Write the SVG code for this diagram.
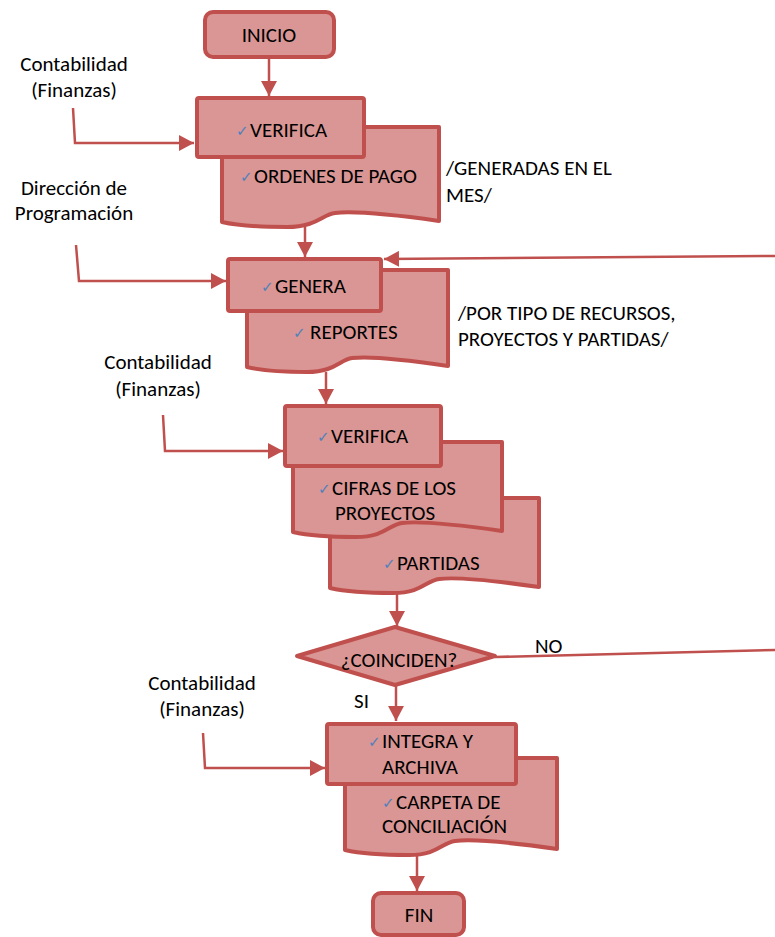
<svg xmlns="http://www.w3.org/2000/svg" width="775" height="937" viewBox="0 0 775 937">
  <defs>
    <marker id="arrow" markerUnits="userSpaceOnUse" markerWidth="16" markerHeight="16" refX="15" refY="8" orient="auto">
      <path d="M0,0 L15,8 L0,16 Z" fill="#c0504d"/>
    </marker>
    <style>
      .shape { fill: #d99694; stroke: #c0504d; stroke-width: 4; stroke-linejoin: round; }
      .conn { fill: none; stroke: #c0504d; stroke-width: 2.5; }
      .arr { marker-end: url(#arrow); }
      text { font-family: Carlito, Lato, "Liberation Sans", sans-serif; font-size: 21px; fill: #000; }
      .lbl { text-anchor: middle; }
      .chk { font-family: "DejaVu Sans", sans-serif; font-size: 15px; fill: #4f81bd; }
    </style>
  </defs>

  <rect width="775" height="937" fill="#fff"/>

  <!-- connectors -->
  <g id="connectors">
    <path class="conn arr" d="M269,58 V96"/>
    <path class="conn arr" d="M73,108 L75,143 H194"/>
    <path class="conn arr" d="M305,226 V257"/>
    <path class="conn arr" d="M76,245 L79,281 H226"/>
    <path class="conn arr" d="M775,256 L384,259"/>
    <path class="conn arr" d="M326,372 V404"/>
    <path class="conn arr" d="M163,415 L165,451 H283"/>
    <path class="conn arr" d="M397,593 V626"/>
    <path class="conn" d="M495,657 L775,650"/>
    <path class="conn arr" d="M396,686 V721"/>
    <path class="conn arr" d="M203,733 L205,768 H325"/>
    <path class="conn arr" d="M417,855 V891"/>
  </g>

  <!-- side labels -->
  <g id="labels">
    <text class="lbl" x="74" y="71">Contabilidad</text>
    <text class="lbl" x="74" y="97">(Finanzas)</text>
    <text class="lbl" x="74" y="195">Dirección de</text>
    <text class="lbl" x="74" y="220">Programación</text>
    <text class="lbl" x="158" y="369">Contabilidad</text>
    <text class="lbl" x="158" y="396">(Finanzas)</text>
    <text class="lbl" x="202" y="690">Contabilidad</text>
    <text class="lbl" x="202" y="716">(Finanzas)</text>
    <text x="446" y="175">/GENERADAS EN EL</text>
    <text x="446" y="202">MES/</text>
    <text x="458" y="320">/POR TIPO DE RECURSOS,</text>
    <text x="458" y="346">PROYECTOS Y PARTIDAS/</text>
    <text x="535" y="653">NO</text>
    <text x="354" y="708">SI</text>
  </g>

  <!-- start -->
  <g id="inicio">
    <rect class="shape" x="205" y="12" width="129" height="45" rx="8"/>
    <text class="lbl" x="269" y="42">INICIO</text>
  </g>

  <!-- step 1: verify payment orders -->
  <g id="ordenes-pago">
    <path class="shape" d="M222,127 H439 V221 C396,215 352,211 335,213 C322,214.5 317,227 287,227 C255,227 235,225 222,222 Z"/>
    <text class="chk" x="240" y="182">✓</text>
    <text x="254" y="183">ORDENES DE PAGO</text>
  </g>
  <g id="verifica-1">
    <rect class="shape" x="197" y="98" width="167" height="59" rx="2"/>
    <text class="chk" x="236" y="136">✓</text>
    <text x="250" y="137">VERIFICA</text>
  </g>

  <!-- step 2: generate reports -->
  <g id="reportes">
    <path class="shape" d="M247,270 H448 V366 C408,360 368,356 352,358 C340,359.5 335,372 307,372 C277,372 259,370 247,367 Z"/>
    <text class="chk" x="293" y="338">✓</text>
    <text x="310" y="339">REPORTES</text>
  </g>
  <g id="genera">
    <rect class="shape" x="228" y="259" width="153" height="52" rx="2"/>
    <text class="chk" x="261" y="292">✓</text>
    <text x="275" y="293">GENERA</text>
  </g>

  <!-- step 3: verify project figures and items -->
  <g id="partidas">
    <path class="shape" d="M330,498 H539 V587 C497,581 455,577 439,579 C426,580.5 422,593 393,593 C361,593 343,591 330,588 Z"/>
    <text class="chk" x="383" y="569">✓</text>
    <text x="397" y="570">PARTIDAS</text>
  </g>
  <g id="cifras-proyectos">
    <path class="shape" d="M293,442 H502 V531 C460,525 418,521 402,523 C389,524.5 385,537 356,537 C324,537 306,535 293,532 Z"/>
    <text class="chk" x="318" y="494">✓</text>
    <text x="332" y="495">CIFRAS DE LOS</text>
    <text x="335" y="520">PROYECTOS</text>
  </g>
  <g id="verifica-2">
    <rect class="shape" x="285" y="406" width="156" height="60" rx="2"/>
    <text class="chk" x="317" y="442">✓</text>
    <text x="331" y="443">VERIFICA</text>
  </g>

  <!-- decision -->
  <g id="coinciden">
    <path class="shape" d="M395,627 L495,656 L395,685 L297,656 Z"/>
    <text class="lbl" x="399" y="667">¿COINCIDEN?</text>
  </g>

  <!-- step 4: integrate and file -->
  <g id="carpeta">
    <path class="shape" d="M345,758 H557 V849 C515,843 472,839 455,841 C442,842.5 438,855 409,855 C377,855 358,853 345,850 Z"/>
    <text class="chk" x="382" y="808">✓</text>
    <text x="396" y="809">CARPETA DE</text>
    <text x="382" y="833">CONCILIACIÓN</text>
  </g>
  <g id="integra">
    <rect class="shape" x="327" y="724" width="189" height="60" rx="2"/>
    <text class="chk" x="368" y="747">✓</text>
    <text x="382" y="748">INTEGRA Y</text>
    <text x="382" y="774">ARCHIVA</text>
  </g>

  <!-- end -->
  <g id="fin">
    <rect class="shape" x="373" y="893" width="91" height="42" rx="8"/>
    <text class="lbl" x="419" y="922">FIN</text>
  </g>
</svg>
